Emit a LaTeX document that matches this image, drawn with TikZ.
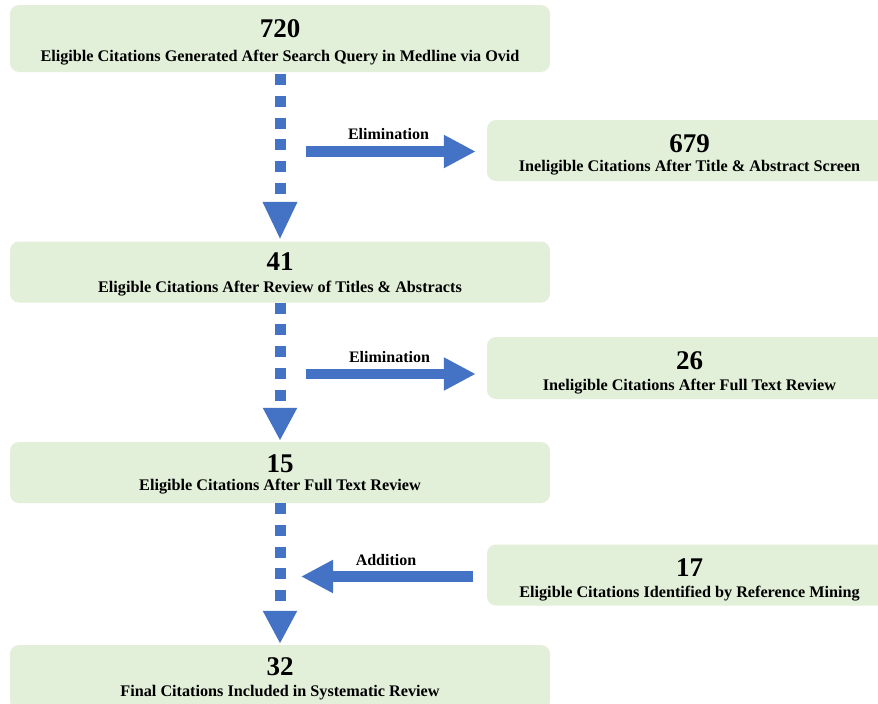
\documentclass[tikz,border=0pt]{standalone}
\usepackage{fontspec}
\setmainfont{Liberation Serif}
\usetikzlibrary{arrows.meta}
\definecolor{boxfill}{HTML}{E2EFD9}
\definecolor{arrowblue}{HTML}{4472C4}
\begin{document}
\begin{tikzpicture}[x=1pt,y=-1pt,
  box/.style={rectangle, rounded corners=9pt, fill=boxfill, draw=none, inner sep=0pt},
  numtext/.style={anchor=base, inner sep=0pt, font=\fontsize{27}{30}\selectfont\bfseries},
  subtext/.style={anchor=base, inner sep=0pt, font=\fontsize{16.2}{18}\selectfont\bfseries},
  lbltext/.style={anchor=base, inner sep=0pt, font=\fontsize{16}{18}\selectfont\bfseries},
  vflow/.style={draw=arrowblue, line width=11pt, dash pattern=on 11pt off 10.7pt},
  hflow/.style={draw=arrowblue, line width=10.7pt, -{Triangle[width=31pt,length=32pt]}}
]
\useasboundingbox (0,0) rectangle (878,704);
\clip (0,0) rectangle (878,704);

% boxes
\node[box, minimum width=540pt, minimum height=67pt] (b1)   at (280,38.5) {};
\node[box, minimum width=405pt, minimum height=61pt] (b679) at (689.5,150.5) {};
\node[box, minimum width=540pt, minimum height=61pt] (b41)  at (280,272) {};
\node[box, minimum width=405pt, minimum height=62pt] (b26)  at (689.5,368) {};
\node[box, minimum width=540pt, minimum height=61pt] (b15)  at (280,472.5) {};
\node[box, minimum width=405pt, minimum height=61pt] (b17)  at (689.5,575) {};
\node[box, minimum width=540pt, minimum height=65pt] (b32)  at (280,677.5) {};

% texts
\node[numtext] (t1n) at (280,37) {720};
\node[subtext] (t1s) at (280,61.5) {Eligible Citations Generated After Search Query in Medline via Ovid};
\node[numtext] (t2n) at (689.5,152) {679};
\node[subtext] (t2s) at (689.5,171.5) {Ineligible Citations After Title \& Abstract Screen};
\node[numtext] (t3n) at (280,270) {41};
\node[subtext] (t3s) at (280,292) {Eligible Citations After Review of Titles \& Abstracts};
\node[numtext] (t4n) at (689.5,369) {26};
\node[subtext] (t4s) at (689.5,390.5) {Ineligible Citations After Full Text Review};
\node[numtext] (t5n) at (280,472) {15};
\node[subtext] (t5s) at (280,490.5) {Eligible Citations After Full Text Review};
\node[numtext] (t6n) at (689.5,576) {17};
\node[subtext] (t6s) at (689.5,597) {Eligible Citations Identified by Reference Mining};
\node[numtext] (t7n) at (280,675) {32};
\node[subtext] (t7s) at (280,696) {Final Citations Included in Systematic Review};

% vertical dashed arrows
\draw[vflow, -{Triangle[width=32pt,length=38pt]}] ([yshift=-2pt]b1.south) -- ([yshift=1.5pt]b41.north);
\draw[vflow, -{Triangle[width=32pt,length=33pt]}] (b41.south) -- ([yshift=1pt]b15.north);
\draw[vflow, -{Triangle[width=32pt,length=33pt]}] (b15.south) -- ([yshift=1pt]b32.north);

% horizontal arrows
\coordinate (e1) at (306,151.5);
\coordinate (e2) at (305.7,374);
\coordinate (a3) at (301,576.5);
\draw[hflow, shorten >=11pt] (e1) -- (e1 -| b679.west);
\draw[hflow, shorten >=11pt] (e2) -- (e2 -| b26.west);
\draw[hflow, shorten <=14pt] (a3 -| b17.west) -- (a3);

% labels
\node[lbltext] (l1) at (388.5,139) {Elimination};
\node[lbltext] (l2) at (389.5,362) {Elimination};
\node[lbltext] (l3) at (386,565) {Addition};
\end{tikzpicture}
\end{document}
